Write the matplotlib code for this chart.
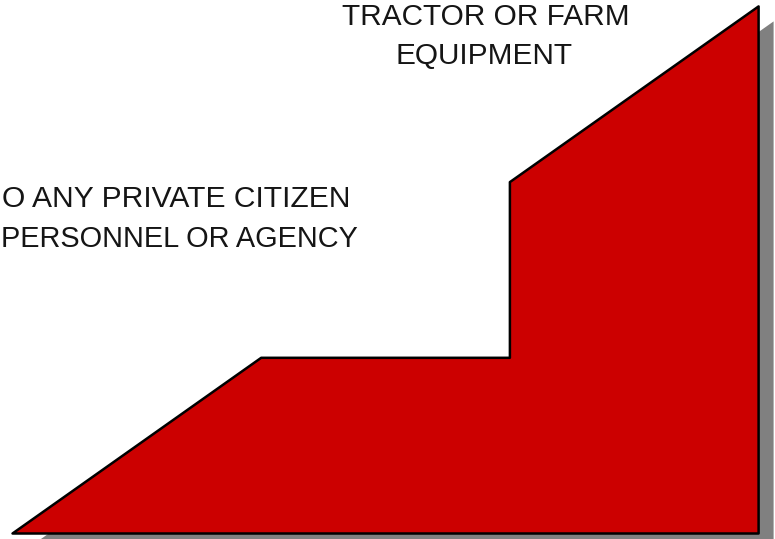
import matplotlib
matplotlib.use('Agg')
import matplotlib.pyplot as plt
import matplotlib.transforms as mtransforms

# area outline (category position, cumulative level)
x_pos = [0, 1, 2, 2, 3]
levels = [0, 1, 1, 2, 3]

labels_top = ['TRACTOR OR FARM', 'EQUIPMENT']
# left label as far as it is visible in the frame
labels_left = ['O ANY PRIVATE CITIZEN', 'PERSONNEL OR AGENCY']

W, H = 775, 539
fig = plt.figure(figsize=(W/100, H/100), dpi=100)
ax = fig.add_axes([0, 0, 1, 1])
ax.set_xlim(-12/248.7, (W-12)/248.7)
ax.set_ylim(-6/175.7, (H-6)/175.7)
ax.axis('off')

# drop shadow
shadow = mtransforms.offset_copy(ax.transData, fig=fig, x=15, y=-15, units='dots')
ax.fill_between(x_pos, 0, levels, color='#808080', lw=0, transform=shadow, zorder=1)

ax.fill_between(x_pos, 0, levels, facecolor='#cc0000', edgecolor='black', lw=1.8, zorder=2)

font = dict(family='Liberation Sans', color='#151515', va='baseline')
ax.text(485.5/W, 1-25/H, labels_top[0], ha='center', fontsize=21.4, transform=ax.transAxes, **font)
ax.text(484/W, 1-64/H, labels_top[1], ha='center', fontsize=21.4, transform=ax.transAxes, **font)
ax.text(350/W, 1-207/H, labels_left[0], ha='right', fontsize=21.6, transform=ax.transAxes, **font)
ax.text(1/W, 1-247/H, labels_left[1], ha='left', fontsize=20.8, transform=ax.transAxes, **font)

fig.savefig('out.png', dpi=100)
